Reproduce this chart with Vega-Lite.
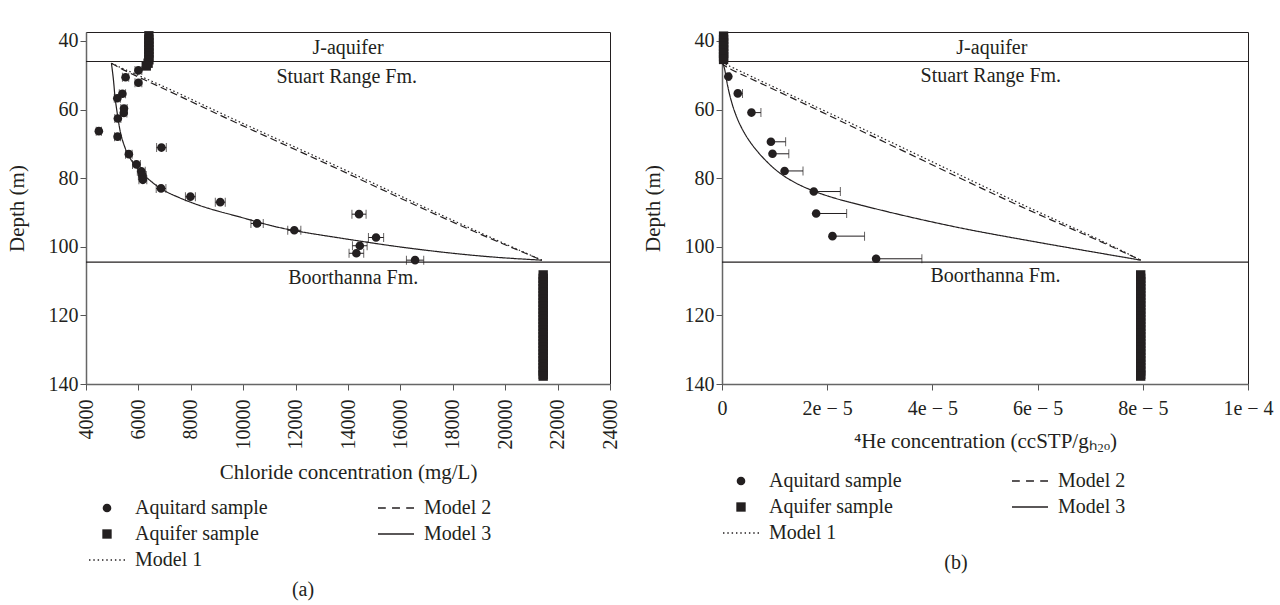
{
  "$schema": "https://vega.github.io/schema/vega-lite/v6.json",
  "padding": {"left": 5, "top": 30, "right": 5, "bottom": 5},
  "background": "white",
  "config": {
    "font": "Liberation Serif",
    "view": {"stroke": "#231f20", "strokeWidth": 1},
    "axis": {
      "labelFont": "Liberation Serif", "titleFont": "Liberation Serif",
      "labelFontSize": 20, "titleFontSize": 21, "titleFontWeight": "normal",
      "labelColor": "#231f20", "titleColor": "#231f20",
      "domainColor": "#666", "domainWidth": 1.5, "tickColor": "#555", "tickSize": 6,
      "grid": false, "labelPadding": 2, "labelFlush": false, "labelOverlap": false
    },
    "title": {"font": "Liberation Serif", "fontSize": 20, "fontWeight": "normal", "color": "#231f20"},
    "legend": {"padding": 0}
  },
  "datasets": {
    "bounds": [{"depth": 46}, {"depth": 104.5}],
    "labelsL": [
      {"x": 14000, "depth": 42, "label": "J-aquifer"},
      {"x": 13950, "depth": 50.4, "label": "Stuart Range Fm."},
      {"x": 14200, "depth": 109.0, "label": "Boorthanna Fm."}
    ],
    "labelsR": [
      {"x": 5.13e-5, "depth": 42, "label": "J-aquifer"},
      {"x": 5.11e-5, "depth": 50.2, "label": "Stuart Range Fm."},
      {"x": 5.2e-5, "depth": 108.6, "label": "Boorthanna Fm."}
    ],
    "modelsL": [
      {"model": "Model 3", "v": 4970, "depth": 46.5},
      {"model": "Model 3", "v": 5030, "depth": 50},
      {"model": "Model 3", "v": 5070, "depth": 53},
      {"model": "Model 3", "v": 5100, "depth": 56.2},
      {"model": "Model 3", "v": 5170, "depth": 60},
      {"model": "Model 3", "v": 5240, "depth": 63.5},
      {"model": "Model 3", "v": 5311, "depth": 66.9},
      {"model": "Model 3", "v": 5450, "depth": 70.5},
      {"model": "Model 3", "v": 5628, "depth": 73.7},
      {"model": "Model 3", "v": 5870, "depth": 76.4},
      {"model": "Model 3", "v": 6137, "depth": 78.6},
      {"model": "Model 3", "v": 6500, "depth": 81.1},
      {"model": "Model 3", "v": 6900, "depth": 83.4},
      {"model": "Model 3", "v": 7400, "depth": 85.2},
      {"model": "Model 3", "v": 8065, "depth": 87.3},
      {"model": "Model 3", "v": 8900, "depth": 89.4},
      {"model": "Model 3", "v": 9845, "depth": 91.2},
      {"model": "Model 3", "v": 10850, "depth": 93.5},
      {"model": "Model 3", "v": 11875, "depth": 95.3},
      {"model": "Model 3", "v": 13655, "depth": 97.4},
      {"model": "Model 3", "v": 15000, "depth": 99.0},
      {"model": "Model 3", "v": 16196, "depth": 100.3},
      {"model": "Model 3", "v": 17500, "depth": 101.5},
      {"model": "Model 3", "v": 18734, "depth": 102.5},
      {"model": "Model 3", "v": 20000, "depth": 103.3},
      {"model": "Model 3", "v": 21400, "depth": 103.9},
      {"model": "Model 2", "v": 4970, "depth": 46.5},
      {"model": "Model 2", "v": 5400, "depth": 48.4},
      {"model": "Model 2", "v": 6000, "depth": 50.5},
      {"model": "Model 2", "v": 7500, "depth": 55.8},
      {"model": "Model 2", "v": 9056, "depth": 61.5},
      {"model": "Model 2", "v": 11300, "depth": 69.3},
      {"model": "Model 2", "v": 13655, "depth": 77.4},
      {"model": "Model 2", "v": 16196, "depth": 86.6},
      {"model": "Model 2", "v": 18734, "depth": 95.4},
      {"model": "Model 2", "v": 21400, "depth": 103.9},
      {"model": "Model 1", "v": 4970, "depth": 46.5},
      {"model": "Model 1", "v": 5500, "depth": 48.4},
      {"model": "Model 1", "v": 6150, "depth": 50.5},
      {"model": "Model 1", "v": 7700, "depth": 55.8},
      {"model": "Model 1", "v": 9250, "depth": 61.5},
      {"model": "Model 1", "v": 11500, "depth": 69.3},
      {"model": "Model 1", "v": 13850, "depth": 77.4},
      {"model": "Model 1", "v": 16380, "depth": 86.6},
      {"model": "Model 1", "v": 18880, "depth": 95.4},
      {"model": "Model 1", "v": 21400, "depth": 103.9}
    ],
    "modelsR": [
      {"model": "Model 3", "v": 0, "depth": 46.3},
      {"model": "Model 3", "v": 5e-7, "depth": 47.5},
      {"model": "Model 3", "v": 9e-7, "depth": 52.4},
      {"model": "Model 3", "v": 2.3e-6, "depth": 61.1},
      {"model": "Model 3", "v": 4.8e-6, "depth": 68.9},
      {"model": "Model 3", "v": 8.65e-6, "depth": 75.7},
      {"model": "Model 3", "v": 1.245e-5, "depth": 80.5},
      {"model": "Model 3", "v": 1.88e-5, "depth": 84.9},
      {"model": "Model 3", "v": 2.72e-5, "depth": 88.2},
      {"model": "Model 3", "v": 3.55e-5, "depth": 91.3},
      {"model": "Model 3", "v": 4.54e-5, "depth": 94.6},
      {"model": "Model 3", "v": 5.17e-5, "depth": 96.4},
      {"model": "Model 3", "v": 6.44e-5, "depth": 99.9},
      {"model": "Model 3", "v": 7.96e-5, "depth": 103.9},
      {"model": "Model 2", "v": 0, "depth": 46.3},
      {"model": "Model 2", "v": 4e-7, "depth": 47.5},
      {"model": "Model 2", "v": 6.1e-6, "depth": 51.4},
      {"model": "Model 2", "v": 1.88e-5, "depth": 60.6},
      {"model": "Model 2", "v": 3.15e-5, "depth": 69.9},
      {"model": "Model 2", "v": 4.54e-5, "depth": 80.1},
      {"model": "Model 2", "v": 5.81e-5, "depth": 89.3},
      {"model": "Model 2", "v": 7.07e-5, "depth": 97.5},
      {"model": "Model 2", "v": 7.96e-5, "depth": 103.9},
      {"model": "Model 1", "v": 0, "depth": 46.3},
      {"model": "Model 1", "v": 7e-6, "depth": 51.4},
      {"model": "Model 1", "v": 1.98e-5, "depth": 60.6},
      {"model": "Model 1", "v": 3.27e-5, "depth": 69.9},
      {"model": "Model 1", "v": 4.66e-5, "depth": 80.1},
      {"model": "Model 1", "v": 5.92e-5, "depth": 89.3},
      {"model": "Model 1", "v": 7.13e-5, "depth": 97.5},
      {"model": "Model 1", "v": 7.96e-5, "depth": 103.9}
    ],
    "ptsL": [
      {"type": "Aquitard sample", "v": 6000, "depth": 48.6, "lo": 5870, "hi": 6130},
      {"type": "Aquitard sample", "v": 5510, "depth": 50.6, "lo": 5390, "hi": 5630},
      {"type": "Aquitard sample", "v": 6000, "depth": 52.2, "lo": 5870, "hi": 6130},
      {"type": "Aquitard sample", "v": 5390, "depth": 55.4, "lo": 5270, "hi": 5510},
      {"type": "Aquitard sample", "v": 5195, "depth": 56.7, "lo": 5080, "hi": 5310},
      {"type": "Aquitard sample", "v": 5450, "depth": 59.7, "lo": 5330, "hi": 5570},
      {"type": "Aquitard sample", "v": 5440, "depth": 61.0, "lo": 5320, "hi": 5560},
      {"type": "Aquitard sample", "v": 5215, "depth": 62.6, "lo": 5100, "hi": 5330},
      {"type": "Aquitard sample", "v": 4490, "depth": 66.3, "lo": 4390, "hi": 4590},
      {"type": "Aquitard sample", "v": 5205, "depth": 67.9, "lo": 5090, "hi": 5320},
      {"type": "Aquitard sample", "v": 6880, "depth": 71.1, "lo": 6695, "hi": 7065},
      {"type": "Aquitard sample", "v": 5635, "depth": 73.0, "lo": 5510, "hi": 5760},
      {"type": "Aquitard sample", "v": 5925, "depth": 76.0, "lo": 5775, "hi": 6075},
      {"type": "Aquitard sample", "v": 6110, "depth": 78.0, "lo": 5960, "hi": 6260},
      {"type": "Aquitard sample", "v": 6150, "depth": 79.2, "lo": 6000, "hi": 6300},
      {"type": "Aquitard sample", "v": 6170, "depth": 80.5, "lo": 6020, "hi": 6320},
      {"type": "Aquitard sample", "v": 6865, "depth": 83.0, "lo": 6680, "hi": 7050},
      {"type": "Aquitard sample", "v": 7985, "depth": 85.4, "lo": 7795, "hi": 8175},
      {"type": "Aquitard sample", "v": 9125, "depth": 87.0, "lo": 8935, "hi": 9315},
      {"type": "Aquitard sample", "v": 10530, "depth": 93.2, "lo": 10295, "hi": 10765},
      {"type": "Aquitard sample", "v": 11950, "depth": 95.2, "lo": 11700, "hi": 12200},
      {"type": "Aquitard sample", "v": 14420, "depth": 90.5, "lo": 14150, "hi": 14690},
      {"type": "Aquitard sample", "v": 15070, "depth": 97.3, "lo": 14780, "hi": 15360},
      {"type": "Aquitard sample", "v": 14450, "depth": 99.7, "lo": 14170, "hi": 14730},
      {"type": "Aquitard sample", "v": 14320, "depth": 101.9, "lo": 14040, "hi": 14600},
      {"type": "Aquitard sample", "v": 16560, "depth": 103.9, "lo": 16230, "hi": 16890},
      {"type": "Aquifer sample", "v": 6400, "depth": 38.5},
      {"type": "Aquifer sample", "v": 6400, "depth": 39.5},
      {"type": "Aquifer sample", "v": 6400, "depth": 40.5},
      {"type": "Aquifer sample", "v": 6400, "depth": 41.5},
      {"type": "Aquifer sample", "v": 6400, "depth": 42.5},
      {"type": "Aquifer sample", "v": 6400, "depth": 43.5},
      {"type": "Aquifer sample", "v": 6400, "depth": 44.5},
      {"type": "Aquifer sample", "v": 6400, "depth": 45.5},
      {"type": "Aquifer sample", "v": 6370, "depth": 46.5},
      {"type": "Aquifer sample", "v": 6300, "depth": 47.3},
      {"type": "Aquifer sample", "v": 21450, "depth": 108.2},
      {"type": "Aquifer sample", "v": 21450, "depth": 109.2},
      {"type": "Aquifer sample", "v": 21450, "depth": 110.2},
      {"type": "Aquifer sample", "v": 21450, "depth": 111.2},
      {"type": "Aquifer sample", "v": 21450, "depth": 112.2},
      {"type": "Aquifer sample", "v": 21450, "depth": 113.2},
      {"type": "Aquifer sample", "v": 21450, "depth": 114.2},
      {"type": "Aquifer sample", "v": 21450, "depth": 115.2},
      {"type": "Aquifer sample", "v": 21450, "depth": 116.2},
      {"type": "Aquifer sample", "v": 21450, "depth": 117.2},
      {"type": "Aquifer sample", "v": 21450, "depth": 118.2},
      {"type": "Aquifer sample", "v": 21450, "depth": 119.2},
      {"type": "Aquifer sample", "v": 21450, "depth": 120.2},
      {"type": "Aquifer sample", "v": 21450, "depth": 121.2},
      {"type": "Aquifer sample", "v": 21450, "depth": 122.2},
      {"type": "Aquifer sample", "v": 21450, "depth": 123.2},
      {"type": "Aquifer sample", "v": 21450, "depth": 124.2},
      {"type": "Aquifer sample", "v": 21450, "depth": 125.2},
      {"type": "Aquifer sample", "v": 21450, "depth": 126.2},
      {"type": "Aquifer sample", "v": 21450, "depth": 127.2},
      {"type": "Aquifer sample", "v": 21450, "depth": 128.2},
      {"type": "Aquifer sample", "v": 21450, "depth": 129.2},
      {"type": "Aquifer sample", "v": 21450, "depth": 130.2},
      {"type": "Aquifer sample", "v": 21450, "depth": 131.2},
      {"type": "Aquifer sample", "v": 21450, "depth": 132.2},
      {"type": "Aquifer sample", "v": 21450, "depth": 133.2},
      {"type": "Aquifer sample", "v": 21450, "depth": 134.2},
      {"type": "Aquifer sample", "v": 21450, "depth": 135.2},
      {"type": "Aquifer sample", "v": 21450, "depth": 136.2},
      {"type": "Aquifer sample", "v": 21450, "depth": 137.2},
      {"type": "Aquifer sample", "v": 21450, "depth": 137.7}
    ],
    "ptsR": [
      {"type": "Aquitard sample", "v": 1.2e-6, "depth": 50.4, "lo": 1.0e-6, "hi": 1.5e-6},
      {"type": "Aquitard sample", "v": 3.0e-6, "depth": 55.3, "lo": 2.6e-6, "hi": 3.9e-6},
      {"type": "Aquitard sample", "v": 5.6e-6, "depth": 60.9, "lo": 5.0e-6, "hi": 7.4e-6},
      {"type": "Aquitard sample", "v": 9.3e-6, "depth": 69.4, "lo": 8.7e-6, "hi": 1.21e-5},
      {"type": "Aquitard sample", "v": 9.6e-6, "depth": 72.9, "lo": 9.0e-6, "hi": 1.27e-5},
      {"type": "Aquitard sample", "v": 1.19e-5, "depth": 77.9, "lo": 1.13e-5, "hi": 1.54e-5},
      {"type": "Aquitard sample", "v": 1.745e-5, "depth": 83.9, "lo": 1.69e-5, "hi": 2.25e-5},
      {"type": "Aquitard sample", "v": 1.79e-5, "depth": 90.3, "lo": 1.73e-5, "hi": 2.37e-5},
      {"type": "Aquitard sample", "v": 2.1e-5, "depth": 96.9, "lo": 2.04e-5, "hi": 2.71e-5},
      {"type": "Aquitard sample", "v": 2.93e-5, "depth": 103.5, "lo": 2.87e-5, "hi": 3.8e-5},
      {"type": "Aquifer sample", "v": 3e-7, "depth": 38.6},
      {"type": "Aquifer sample", "v": 3e-7, "depth": 39.6},
      {"type": "Aquifer sample", "v": 3e-7, "depth": 40.6},
      {"type": "Aquifer sample", "v": 3e-7, "depth": 41.6},
      {"type": "Aquifer sample", "v": 3e-7, "depth": 42.6},
      {"type": "Aquifer sample", "v": 3e-7, "depth": 43.6},
      {"type": "Aquifer sample", "v": 3e-7, "depth": 44.6},
      {"type": "Aquifer sample", "v": 3e-7, "depth": 45.4},
      {"type": "Aquifer sample", "v": 7.96e-5, "depth": 108.2},
      {"type": "Aquifer sample", "v": 7.96e-5, "depth": 109.2},
      {"type": "Aquifer sample", "v": 7.96e-5, "depth": 110.2},
      {"type": "Aquifer sample", "v": 7.96e-5, "depth": 111.2},
      {"type": "Aquifer sample", "v": 7.96e-5, "depth": 112.2},
      {"type": "Aquifer sample", "v": 7.96e-5, "depth": 113.2},
      {"type": "Aquifer sample", "v": 7.96e-5, "depth": 114.2},
      {"type": "Aquifer sample", "v": 7.96e-5, "depth": 115.2},
      {"type": "Aquifer sample", "v": 7.96e-5, "depth": 116.2},
      {"type": "Aquifer sample", "v": 7.96e-5, "depth": 117.2},
      {"type": "Aquifer sample", "v": 7.96e-5, "depth": 118.2},
      {"type": "Aquifer sample", "v": 7.96e-5, "depth": 119.2},
      {"type": "Aquifer sample", "v": 7.96e-5, "depth": 120.2},
      {"type": "Aquifer sample", "v": 7.96e-5, "depth": 121.2},
      {"type": "Aquifer sample", "v": 7.96e-5, "depth": 122.2},
      {"type": "Aquifer sample", "v": 7.96e-5, "depth": 123.2},
      {"type": "Aquifer sample", "v": 7.96e-5, "depth": 124.2},
      {"type": "Aquifer sample", "v": 7.96e-5, "depth": 125.2},
      {"type": "Aquifer sample", "v": 7.96e-5, "depth": 126.2},
      {"type": "Aquifer sample", "v": 7.96e-5, "depth": 127.2},
      {"type": "Aquifer sample", "v": 7.96e-5, "depth": 128.2},
      {"type": "Aquifer sample", "v": 7.96e-5, "depth": 129.2},
      {"type": "Aquifer sample", "v": 7.96e-5, "depth": 130.2},
      {"type": "Aquifer sample", "v": 7.96e-5, "depth": 131.2},
      {"type": "Aquifer sample", "v": 7.96e-5, "depth": 132.2},
      {"type": "Aquifer sample", "v": 7.96e-5, "depth": 133.2},
      {"type": "Aquifer sample", "v": 7.96e-5, "depth": 134.2},
      {"type": "Aquifer sample", "v": 7.96e-5, "depth": 135.2},
      {"type": "Aquifer sample", "v": 7.96e-5, "depth": 136.2},
      {"type": "Aquifer sample", "v": 7.96e-5, "depth": 137.2},
      {"type": "Aquifer sample", "v": 7.96e-5, "depth": 137.7}
    ]
  },
  "resolve": {
    "scale": {"x": "independent", "y": "independent", "shape": "independent", "strokeDash": "independent"},
    "legend": {"shape": "independent", "strokeDash": "independent"}
  },
  "spacing": 20,
  "hconcat": [
    {
      "width": 524,
      "height": 352,
      "title": {"text": "(a)", "orient": "bottom", "dx": -45, "offset": 10},
      "layer": [
        {
          "data": {"name": "modelsL"},
          "mark": {"type": "line", "color": "#231f20", "strokeWidth": 1.2, "interpolate": "basis"},
          "encoding": {
            "x": {"field": "v", "type": "quantitative",
                  "scale": {"domain": [4000, 24000], "nice": false, "zero": false},
                  "axis": {"title": "Chloride concentration (mg/L)", "values": [4000, 6000, 8000, 10000, 12000, 14000, 16000, 18000, 20000, 22000, 24000], "format": "d", "labelAngle": -90, "labelPadding": 9, "titlePadding": 12}},
            "y": {"field": "depth", "type": "quantitative",
                  "scale": {"domain": [37.4, 140], "nice": false, "zero": false, "reverse": true},
                  "axis": {"title": "Depth (m)", "values": [40, 60, 80, 100, 120, 140], "titlePadding": 21}},
            "strokeDash": {"field": "model", "type": "nominal",
                  "scale": {"domain": ["Model 1", "Model 2", "Model 3"], "range": [[1.5, 2.5], [7, 4], [1, 0]]},
                  "legend": null},
            "order": {"field": "depth", "type": "quantitative"}
          }
        },
        {
          "data": {"name": "bounds"},
          "mark": {"type": "rule", "color": "#231f20", "strokeWidth": 1.2},
          "encoding": {"y": {"field": "depth", "type": "quantitative"}}
        },
        {
          "data": {"name": "labelsL"},
          "mark": {"type": "text", "font": "Liberation Serif", "fontSize": 20, "color": "#231f20", "baseline": "middle", "align": "center"},
          "encoding": {
            "x": {"field": "x", "type": "quantitative"},
            "y": {"field": "depth", "type": "quantitative"},
            "text": {"field": "label", "type": "nominal"}
          }
        },
        {
          "data": {"name": "ptsL"},
          "transform": [{"filter": {"field": "lo", "valid": true}}],
          "mark": {"type": "rule", "color": "#231f20", "strokeWidth": 1},
          "encoding": {
            "x": {"field": "lo", "type": "quantitative"},
            "x2": {"field": "hi"},
            "y": {"field": "depth", "type": "quantitative"}
          }
        },
        {
          "data": {"name": "ptsL"},
          "transform": [{"filter": {"field": "lo", "valid": true}}],
          "mark": {"type": "tick", "orient": "vertical", "color": "#231f20", "size": 9, "thickness": 1},
          "encoding": {
            "x": {"field": "lo", "type": "quantitative"},
            "y": {"field": "depth", "type": "quantitative"}
          }
        },
        {
          "data": {"name": "ptsL"},
          "transform": [{"filter": {"field": "lo", "valid": true}}],
          "mark": {"type": "tick", "orient": "vertical", "color": "#231f20", "size": 9, "thickness": 1},
          "encoding": {
            "x": {"field": "hi", "type": "quantitative"},
            "y": {"field": "depth", "type": "quantitative"}
          }
        },
        {
          "data": {"name": "ptsL"},
          "mark": {"type": "point", "filled": true, "size": 576, "fill": "#231f20", "strokeWidth": 0, "opacity": 1},
          "encoding": {
            "x": {"field": "v", "type": "quantitative"},
            "y": {"field": "depth", "type": "quantitative"},
            "shape": {"field": "type", "type": "nominal",
              "scale": {
                "domain": ["Aquitard sample", "Aquifer sample", "Model 1", "Model 2", "Model 3"],
                "range": [
                  "M-0.36,0A0.36,0.36 0 1,0 0.36,0A0.36,0.36 0 1,0 -0.36,0Z",
                  "M-0.39,-0.39H0.39V0.39H-0.39Z",
                  "M-1.5,-0.06H-1.38V0.06H-1.5ZM-1.14,-0.06H-1.02V0.06H-1.14ZM-0.78,-0.06H-0.66V0.06H-0.78ZM-0.42,-0.06H-0.3V0.06H-0.42ZM-0.06,-0.06H0.06V0.06H-0.06ZM0.3,-0.06H0.42V0.06H0.3ZM0.66,-0.06H0.78V0.06H0.66ZM1.02,-0.06H1.14V0.06H1.02ZM1.38,-0.06H1.5V0.06H1.38Z",
                  "M-1.5,-0.06H-0.85V0.06H-1.5ZM-0.33,-0.06H0.33V0.06H-0.33ZM0.85,-0.06H1.5V0.06H0.85Z",
                  "M-1.5,-0.06H1.5V0.06H-1.5Z"
                ]
              },
              "legend": {
                "title": null, "orient": "none", "legendX": 9, "legendY": 464,
                "columns": 2, "columnPadding": 110, "rowPadding": 4,
                "symbolSize": 576, "labelFont": "Liberation Serif", "labelFontSize": 20,
                "labelOffset": 16, "labelColor": "#231f20", "labelLimit": 300,
                "symbolFillColor": "#231f20", "symbolStrokeWidth": 0,
                "encode": {"symbols": {"update": {"fill": {"value": "#231f20"}, "size": {"value": 576}, "opacity": {"value": 1}}}}
              }
            }
          }
        }
      ]
    },
    {
      "width": 526,
      "height": 352,
      "title": {"text": "(b)", "orient": "bottom", "dx": -29, "offset": 10},
      "layer": [
        {
          "data": {"name": "modelsR"},
          "mark": {"type": "line", "color": "#231f20", "strokeWidth": 1.2, "interpolate": "basis"},
          "encoding": {
            "x": {"field": "v", "type": "quantitative",
                  "scale": {"domain": [0, 0.0001], "nice": false, "zero": false},
                  "axis": {"title": "⁴He concentration (ccSTP/gₕ₂ₒ)", "values": [0, 0.00002, 0.00004, 0.00006, 0.00008, 0.0001],
                           "labelExpr": "datum.value === 0 ? '0' : replace(format(datum.value, '.0e'), '-', ' − ')",
                           "labelPadding": 8, "titlePadding": 12}},
            "y": {"field": "depth", "type": "quantitative",
                  "scale": {"domain": [37.4, 140], "nice": false, "zero": false, "reverse": true},
                  "axis": {"title": "Depth (m)", "values": [40, 60, 80, 100, 120, 140], "titlePadding": 21}},
            "strokeDash": {"field": "model", "type": "nominal",
                  "scale": {"domain": ["Model 1", "Model 2", "Model 3"], "range": [[1.5, 2.5], [7, 4], [1, 0]]},
                  "legend": null},
            "order": {"field": "depth", "type": "quantitative"}
          }
        },
        {
          "data": {"name": "bounds"},
          "mark": {"type": "rule", "color": "#231f20", "strokeWidth": 1.2},
          "encoding": {"y": {"field": "depth", "type": "quantitative"}}
        },
        {
          "data": {"name": "labelsR"},
          "mark": {"type": "text", "font": "Liberation Serif", "fontSize": 20, "color": "#231f20", "baseline": "middle", "align": "center"},
          "encoding": {
            "x": {"field": "x", "type": "quantitative"},
            "y": {"field": "depth", "type": "quantitative"},
            "text": {"field": "label", "type": "nominal"}
          }
        },
        {
          "data": {"name": "ptsR"},
          "transform": [{"filter": {"field": "lo", "valid": true}}],
          "mark": {"type": "rule", "color": "#231f20", "strokeWidth": 1},
          "encoding": {
            "x": {"field": "lo", "type": "quantitative"},
            "x2": {"field": "hi"},
            "y": {"field": "depth", "type": "quantitative"}
          }
        },
        {
          "data": {"name": "ptsR"},
          "transform": [{"filter": {"field": "lo", "valid": true}}],
          "mark": {"type": "tick", "orient": "vertical", "color": "#231f20", "size": 9, "thickness": 1},
          "encoding": {
            "x": {"field": "hi", "type": "quantitative"},
            "y": {"field": "depth", "type": "quantitative"}
          }
        },
        {
          "data": {"name": "ptsR"},
          "mark": {"type": "point", "filled": true, "size": 576, "fill": "#231f20", "strokeWidth": 0, "opacity": 1},
          "encoding": {
            "x": {"field": "v", "type": "quantitative"},
            "y": {"field": "depth", "type": "quantitative"},
            "shape": {"field": "type", "type": "nominal",
              "scale": {
                "domain": ["Aquitard sample", "Aquifer sample", "Model 1", "Model 2", "Model 3"],
                "range": [
                  "M-0.36,0A0.36,0.36 0 1,0 0.36,0A0.36,0.36 0 1,0 -0.36,0Z",
                  "M-0.39,-0.39H0.39V0.39H-0.39Z",
                  "M-1.5,-0.06H-1.38V0.06H-1.5ZM-1.14,-0.06H-1.02V0.06H-1.14ZM-0.78,-0.06H-0.66V0.06H-0.78ZM-0.42,-0.06H-0.3V0.06H-0.42ZM-0.06,-0.06H0.06V0.06H-0.06ZM0.3,-0.06H0.42V0.06H0.3ZM0.66,-0.06H0.78V0.06H0.66ZM1.02,-0.06H1.14V0.06H1.02ZM1.38,-0.06H1.5V0.06H1.38Z",
                  "M-1.5,-0.06H-0.85V0.06H-1.5ZM-0.33,-0.06H0.33V0.06H-0.33ZM0.85,-0.06H1.5V0.06H0.85Z",
                  "M-1.5,-0.06H1.5V0.06H-1.5Z"
                ]
              },
              "legend": {
                "title": null, "orient": "none", "legendX": 7, "legendY": 437,
                "columns": 2, "columnPadding": 110, "rowPadding": 4,
                "symbolSize": 576, "labelFont": "Liberation Serif", "labelFontSize": 20,
                "labelOffset": 16, "labelColor": "#231f20", "labelLimit": 300,
                "symbolFillColor": "#231f20", "symbolStrokeWidth": 0,
                "encode": {"symbols": {"update": {"fill": {"value": "#231f20"}, "size": {"value": 576}, "opacity": {"value": 1}}}}
              }
            }
          }
        }
      ]
    }
  ]
}
